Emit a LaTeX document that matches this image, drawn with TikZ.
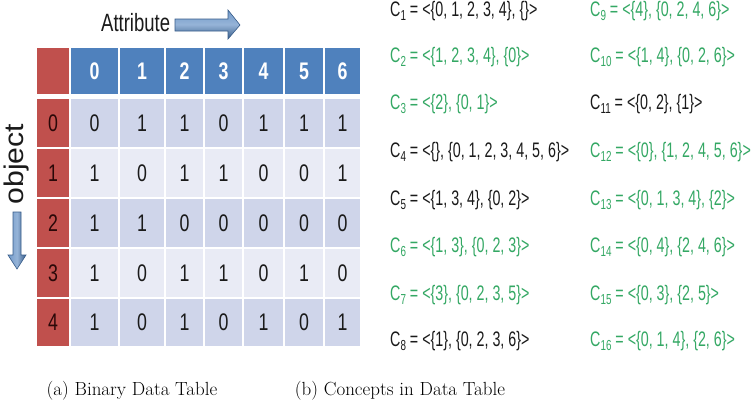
\documentclass[tikz,border=0pt]{standalone}
\usepackage{fontspec}
\newfontfamily\narr[FakeStretch=0.74]{Liberation Sans}
\newfontfamily\narrc[FakeStretch=0.68]{Liberation Sans}
\newfontfamily\widesans[FakeStretch=1.12]{Liberation Sans}
\definecolor{hdrblue}{HTML}{4F81BD}
\definecolor{hdrdark}{HTML}{385D8A}
\definecolor{objred}{HTML}{C0504D}
\definecolor{banddark}{HTML}{CFD5EA}
\definecolor{bandlight}{HTML}{E9EBF5}
\definecolor{cgreen}{RGB}{52,168,100}
\definecolor{txt}{HTML}{1A1A1A}
\definecolor{redtxt}{HTML}{2A0808}
\newcommand\sbs[1]{\raisebox{-0.4ex}{\fontsize{14.5}{14.5}\selectfont#1}}
\tikzset{
  cellbase/.style={inner sep=0pt, outer sep=0pt, font=\narr\fontsize{24}{24}\selectfont},
  hdrcell/.style={cellbase, fill=hdrblue, text=white, font=\narr\bfseries\fontsize{24}{24}\selectfont, minimum height=46},
  redcell/.style={cellbase, fill=objred, text=redtxt, minimum width=32},
  bodycell/.style={cellbase, text=txt},
  concept/.style={anchor=west, inner sep=0pt, font=\narrc\fontsize{21}{21}\selectfont, text=txt},
  gconcept/.style={concept, text=cgreen},
  caption/.style={inner sep=0pt, font=\fontsize{19}{22}\selectfont},
}
\begin{document}
\begin{tikzpicture}[x=1pt,y=-1pt]
\useasboundingbox[fill=white] (0,0) rectangle (754,408);
% header
\node[hdrcell, fill=objred, minimum width=32] (corner) at (53,71) {};
\foreach \k/\cx/\cw in {0/94.5/47,1/142/44,2/184.5/37,3/223.5/37,4/263.5/39,5/304/38,6/342.5/35}{
  \node[hdrcell, minimum width=\cw] (h\k) at (\cx,71) {\k};
}
% body
\foreach \r/\cy/\h/\band/\vals in {0/123/48/banddark/{0,1,1,0,1,1,1},1/173/48/bandlight/{1,0,1,1,0,0,1},2/223/48/banddark/{1,1,0,0,0,0,0},3/273/48/bandlight/{1,0,1,1,0,1,0},4/322.5/47/banddark/{1,0,1,0,1,0,1}}{
  \node[redcell, minimum height=\h] (o\r) at (53,\cy) {\r};
  \foreach \v [count=\k from 0] in \vals {
    \pgfmathsetmacro\cx{{94.5,142,184.5,223.5,263.5,304,342.5}[\k]}
    \pgfmathsetmacro\cw{{47,44,37,37,39,38,35}[\k]}
    \node[bodycell, fill=\band, minimum width=\cw, minimum height=\h] (v\r\k) at (\cx,\cy) {\v};
  }
}
% attribute label and arrow
\node[anchor=west, inner sep=0pt, font=\narr\fontsize{25}{25}\selectfont, text=txt] (attr) at (101,23) {Attribute};
\shade[top color=hdrblue!80, bottom color=hdrdark, middle color=hdrblue!60!white, draw=hdrdark, line width=0.6pt]
  (175,19) -- (228,19) -- (228,10) -- (240,25) -- (228,39) -- (228,31) -- (175,31) -- cycle;
% object label and arrow
\node[rotate=90, inner sep=0pt, font=\widesans\fontsize{27}{27}\selectfont, text=txt] (obj) at (17,164) {object};
\shade[left color=hdrblue!80, right color=hdrdark, middle color=hdrblue!60!white, draw=hdrdark, line width=0.6pt]
  (13,212) -- (21,212) -- (21,255) -- (26,255) -- (17,269) -- (8,255) -- (13,255) -- cycle;
% concepts
\node[concept]  (c1) at (390,11)  {C\sbs{1} = <\{0, 1, 2, 3, 4\}, \{\}>};
\node[gconcept] (c2) at (390,57)  {C\sbs{2} = <\{1, 2, 3, 4\}, \{0\}>};
\node[gconcept] (c3) at (390,104) {C\sbs{3} = <\{2\}, \{0, 1\}>};
\node[concept]  (c4) at (390,152) {C\sbs{4} = <\{\}, \{0, 1, 2, 3, 4, 5, 6\}>};
\node[concept]  (c5) at (390,200) {C\sbs{5} = <\{1, 3, 4\}, \{0, 2\}>};
\node[gconcept] (c6) at (390,247) {C\sbs{6} = <\{1, 3\}, \{0, 2, 3\}>};
\node[gconcept] (c7) at (390,295) {C\sbs{7} = <\{3\}, \{0, 2, 3, 5\}>};
\node[concept]  (c8) at (390,341) {C\sbs{8} = <\{1\}, \{0, 2, 3, 6\}>};
\node[gconcept] (c9)  at (590,11)  {C\sbs{9} = <\{4\}, \{0, 2, 4, 6\}>};
\node[gconcept] (c10) at (590,57)  {C\sbs{10} = <\{1, 4\}, \{0, 2, 6\}>};
\node[concept]  (c11) at (590,104) {C\sbs{11} = <\{0, 2\}, \{1\}>};
\node[gconcept] (c12) at (590,152) {C\sbs{12} = <\{0\}, \{1, 2, 4, 5, 6\}>};
\node[gconcept] (c13) at (590,200) {C\sbs{13} = <\{0, 1, 3, 4\}, \{2\}>};
\node[gconcept] (c14) at (590,247) {C\sbs{14} = <\{0, 4\}, \{2, 4, 6\}>};
\node[gconcept] (c15) at (590,295) {C\sbs{15} = <\{0, 3\}, \{2, 5\}>};
\node[gconcept] (c16) at (590,341) {C\sbs{16} = <\{0, 1, 4\}, \{2, 6\}>};
% captions
\node[caption] (capa) at (132,391) {(a) Binary Data Table};
\node[caption] (capb) at (400,391) {(b) Concepts in Data Table};
\end{tikzpicture}
\end{document}
